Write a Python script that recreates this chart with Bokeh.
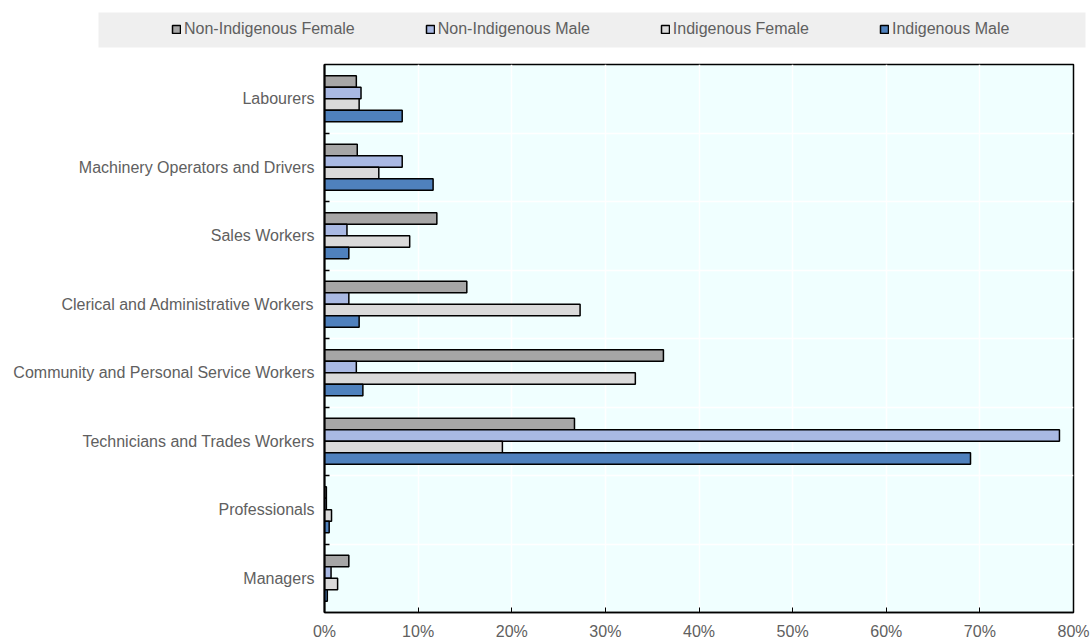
from bokeh.plotting import figure
from bokeh.models import (ColumnDataSource, FixedTicker, PrintfTickFormatter, Legend,
                          LegendItem, Range1d)
from bokeh.layouts import column, row
from bokeh.transform import dodge
from bokeh.embed import file_html
from bokeh.resources import INLINE

categories = ["Labourers", "Machinery Operators and Drivers", "Sales Workers",
              "Clerical and Administrative Workers", "Community and Personal Service Workers",
              "Technicians and Trades Workers", "Professionals", "Managers"]
series_names = ["Non-Indigenous Female", "Non-Indigenous Male", "Indigenous Female", "Indigenous Male"]
non_ind_female = [3.4, 3.5, 12.0, 15.2, 36.2, 26.7, 0.2, 2.6]
non_ind_male = [3.9, 8.3, 2.4, 2.6, 3.4, 78.5, 0.2, 0.7]
ind_female = [3.7, 5.8, 9.1, 27.3, 33.2, 19.0, 0.75, 1.4]
ind_male = [8.3, 11.6, 2.6, 3.7, 4.1, 69.0, 0.5, 0.3]
x_ticks = [0, 10, 20, 30, 40, 50, 60, 70, 80]

colors = ["#A6A6A6", "#A9B9E3", "#DADADA", "#4F81BD"]
FONT = "Liberation Sans"
TXT = "#606060"

n = len(categories)
pos = [n - 1 - i for i in range(n)]
src = ColumnDataSource(dict(pos=pos, cat=categories, nif=non_ind_female, nim=non_ind_male,
                            if_=ind_female, im=ind_male))

# ---------- legend strip ----------
lf = figure(width=1091, height=50, x_range=Range1d(0, 1), y_range=Range1d(0, 1),
            x_axis_type=None, y_axis_type=None, output_backend="svg", toolbar_location=None,
            min_border_left=98, min_border_right=6, min_border_top=12, min_border_bottom=3)
lf.background_fill_color = "#EFEFEF"
lf.border_fill_color = "white"
lf.outline_line_color = None
lf.grid.visible = False
dummy = ColumnDataSource(dict(y=[float("nan")], right=[float("nan")]))
leg_renderers = []
for c in colors:
    r = lf.hbar(y="y", right="right", left=0, height=0.1, fill_color=c,
                line_color="black", line_width=1.5, source=dummy)
    leg_renderers.append(r)
legend = Legend(items=[LegendItem(label=s, renderers=[r]) for s, r in zip(series_names, leg_renderers)],
                orientation="horizontal", location=(73, 8),
                glyph_width=10, glyph_height=10, label_standoff=3, spacing=70,
                padding=0, margin=0, border_line_color=None, background_fill_alpha=0,
                label_text_font=FONT, label_text_font_size="16px", label_text_color=TXT,
                label_height=20)
lf.add_layout(legend, "center")

# ---------- main chart ----------
p = figure(width=1091, height=592, x_range=Range1d(0, 80), y_range=Range1d(-0.5, n - 0.5),
           output_backend="svg", toolbar_location=None,
           min_border_left=324, min_border_right=18, min_border_top=14, min_border_bottom=30)
p.background_fill_color = "#F0FFFF"
p.border_fill_color = "white"
p.outline_line_color = "black"
p.outline_line_width = 1.5

bh = 0.168
offsets = [1.5 * bh, 0.5 * bh, -0.5 * bh, -1.5 * bh]
fields = ["nif", "nim", "if_", "im"]
for f, off, c in zip(fields, offsets, colors):
    p.hbar(y=dodge("pos", off, range=p.y_range), right=f, left=0, height=bh,
           fill_color=c, line_color="black", line_width=1.5, source=src)

p.xgrid.ticker = FixedTicker(ticks=x_ticks)
p.xgrid.grid_line_color = "white"
p.xgrid.grid_line_width = 1.5
p.ygrid.ticker = FixedTicker(ticks=[k + 0.5 for k in range(n - 1)])
p.ygrid.grid_line_color = "white"
p.ygrid.grid_line_width = 1.5

xa = p.xaxis[0]
xa.ticker = FixedTicker(ticks=x_ticks)
xa.formatter = PrintfTickFormatter(format="%d%%")
xa.major_tick_in = 5
xa.major_tick_out = 0
xa.minor_tick_line_color = None
xa.axis_line_width = 1.5
xa.axis_line_color = "black"
xa.major_tick_line_color = "black"
xa.major_label_text_font = FONT
xa.major_label_text_font_size = "16px"
xa.major_label_text_color = TXT
xa.major_label_standoff = 10

ya = p.yaxis[0]
ya.ticker = FixedTicker(ticks=pos, minor_ticks=[k + 0.5 for k in range(n - 1)])
ya.major_label_overrides = {pv: c for pv, c in zip(pos, categories)}
ya.major_tick_in = 0
ya.major_tick_out = 0
ya.minor_tick_in = 5
ya.minor_tick_out = 0
ya.minor_tick_line_color = "black"
ya.minor_tick_line_width = 1.5
ya.axis_line_width = 2
ya.axis_line_color = "black"
ya.major_label_text_font = FONT
ya.major_label_text_font_size = "16px"
ya.major_label_text_color = TXT
ya.major_label_standoff = 10

layout = column(row(lf, spacing=0), row(p, spacing=0), spacing=0)
open("out.html", "w").write(file_html(layout, INLINE))
